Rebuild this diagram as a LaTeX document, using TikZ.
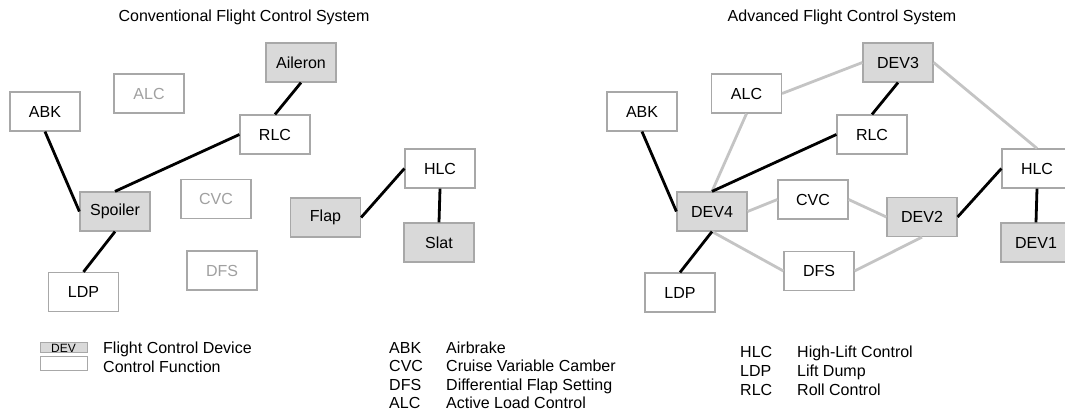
\documentclass[tikz,border=0pt]{standalone}
\usepackage{fontspec}
\setmainfont{Liberation Sans}
\begin{document}
\begin{tikzpicture}[x=1pt,y=-1pt,
  font=\fontsize{16}{19}\selectfont,
  every node/.style={inner sep=0pt},
  fbox/.style={draw=boxline, line width=1.2pt, fill=white, minimum width=70pt, minimum height=39pt},
  dbox/.style={fbox, fill=devfill},
  faded/.style={fbox, text=fadetext},
  strong/.style={line width=2.8pt, black},
  weak/.style={line width=2.8pt, linkgray},
  legtext/.style={anchor=base west}
]
\definecolor{boxline}{HTML}{A8A8A8}
\definecolor{devfill}{HTML}{D9D9D9}
\definecolor{fadetext}{HTML}{A0A0A0}
\definecolor{linkgray}{HTML}{C4C4C4}
\useasboundingbox (0,0) rectangle (1065,411);

% ---- titles ----
\node (tconv) at (244,17) {Conventional Flight Control System};
\node (tadv) at (842,17) {Advanced Flight Control System};

% ---- conventional system ----
\node[dbox] (aileron) at (301,62.5) {Aileron};
\node[faded] (alcL) at (149,93.5) {ALC};
\node[fbox] (abkL) at (45,111.5) {ABK};
\node[fbox] (rlcL) at (275,134.5) {RLC};
\node[dbox] (spoiler) at (115,211.5) {Spoiler};
\node[faded] (cvcL) at (216,199) {CVC};
\node[dbox] (flap) at (325.5,217.5) {Flap};
\node[faded] (dfsL) at (222,270.5) {DFS};
\node[fbox] (ldpL) at (83.5,292) {LDP};
\node[fbox] (hlcL) at (440,168.5) {HLC};
\node[dbox] (slat) at (439,242.5) {Slat};

\draw[strong] (abkL.south) -- (spoiler.west);
\draw[strong] (spoiler.north) -- (rlcL.west);
\draw[strong] (aileron.south) -- (rlcL.north);
\draw[strong] (spoiler.south) -- (ldpL.north);
\draw[strong] (hlcL.west) -- (flap.east);
\draw[strong] (hlcL.south) -- (slat.north);

% ---- advanced system ----
\node[dbox] (dev3) at (898,62.5) {DEV3};
\node[fbox] (alcR) at (746.5,93.5) {ALC};
\node[fbox] (abkR) at (642,111.5) {ABK};
\node[fbox] (rlcR) at (872,134.5) {RLC};
\node[fbox] (hlcR) at (1037,168.5) {HLC};
\node[dbox] (dev4) at (712,211.5) {DEV4};
\node[fbox] (cvcR) at (813,199.5) {CVC};
\node[dbox] (dev2) at (922,217) {DEV2};
\node[dbox] (dev1) at (1036,242.5) {DEV1};
\node[fbox] (dfsR) at (819,271) {DFS};
\node[fbox] (ldpR) at (680,292.5) {LDP};

\draw[weak] (alcR.east) -- (dev3.west);
\draw[weak] (alcR.south) -- (dev4.north);
\draw[weak] (dev3.east) -- (hlcR.north);
\draw[weak] (dev4.east) -- (cvcR.west);
\draw[weak] (cvcR.east) -- (dev2.west);
\draw[weak] (dev4.south) -- (dfsR.west);
\draw[weak] (dfsR.east) -- (dev2.south);

\draw[strong] (abkR.south) -- (dev4.west);
\draw[strong] (dev4.north) -- (rlcR.west);
\draw[strong] (dev3.south) -- (rlcR.north);
\draw[strong] (dev4.south) -- (ldpR.north);
\draw[strong] (hlcR.west) -- (dev2.east);
\draw[strong] (hlcR.south) -- (dev1.north);

% ---- key ----
\node[draw=boxline, line width=1pt, fill=devfill, minimum width=47pt, minimum height=10pt,
      font=\fontsize{12}{14}\selectfont] (kdev) at (63.5,348) {DEV};
\node[draw=boxline, line width=1pt, fill=white, minimum width=47pt, minimum height=13pt] (kfun) at (63.5,363.5) {};
\node[legtext] (kdevt) at (103,354) {Flight Control Device};
\node[legtext] (kfunt) at (103,372.3) {Control Function};

\node[legtext] (a1) at (389,353.3) {ABK};
\node[legtext] (b1) at (446,353.3) {Airbrake};
\node[legtext] (a2) at (389,371.7) {CVC};
\node[legtext] (b2) at (446,371.7) {Cruise Variable Camber};
\node[legtext] (a3) at (389,390) {DFS};
\node[legtext] (b3) at (446,390) {Differential Flap Setting};
\node[legtext] (a4) at (389,408.3) {ALC};
\node[legtext] (b4) at (446,408.3) {Active Load Control};

\node[legtext] (c1) at (740,357.3) {HLC};
\node[legtext] (d1) at (797,357.3) {High-Lift Control};
\node[legtext] (c2) at (740,376.2) {LDP};
\node[legtext] (d2) at (797,376.2) {Lift Dump};
\node[legtext] (c3) at (740,395) {RLC};
\node[legtext] (d3) at (797,395) {Roll Control};
\end{tikzpicture}
\end{document}
